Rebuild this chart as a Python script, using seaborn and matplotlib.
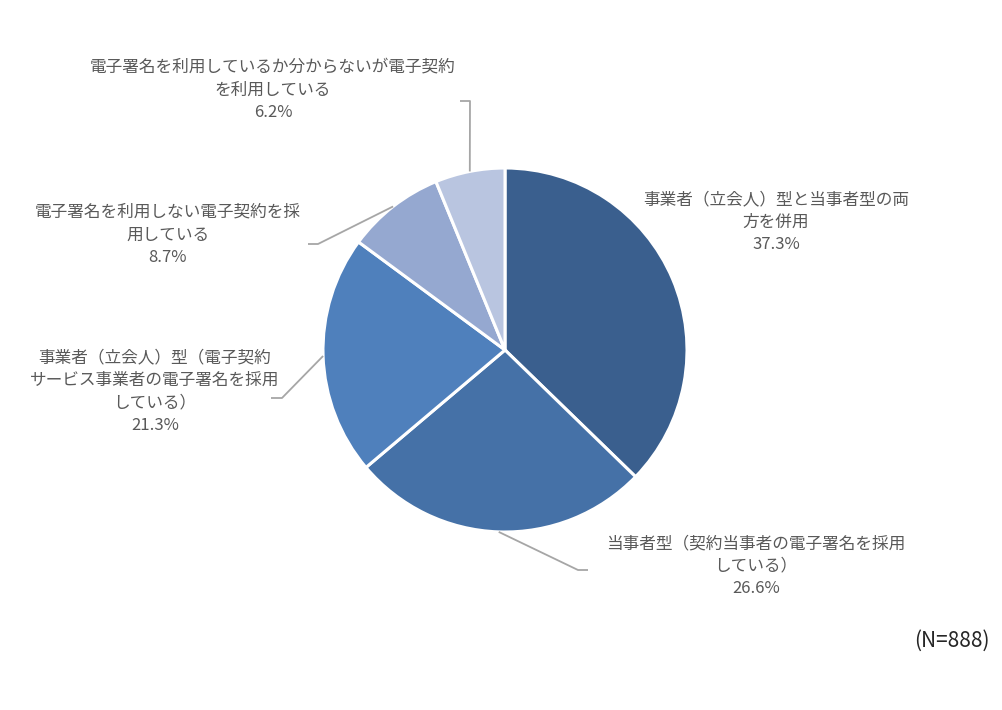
import numpy as np
import matplotlib
matplotlib.use("Agg")
import matplotlib.pyplot as plt
import seaborn as sns

sns.set_theme(style="white")
plt.rcParams['font.family'] = ['Noto Sans CJK JP', 'DejaVu Sans']

# data
labels = [
    "事業者（立会人）型と当事者型の両\n方を併用",
    "当事者型（契約当事者の電子署名を採用\nしている）",
    "事業者（立会人）型（電子契約\nサービス事業者の電子署名を採用\nしている）",
    "電子署名を利用しない電子契約を採\n用している",
    "電子署名を利用しているか分からないが電子契約\nを利用している",
]
shares = [37.3, 26.6, 21.3, 8.7, 6.2]
colors = ["#3A5F8E", "#4571A7", "#4F80BC", "#95A8D0", "#B9C5E0"]
n_total = 888

# label centre (pixels from top-left) and leader elbow / end points
label_pos = [(776, 222), (756, 566), (155, 392), (168, 235), (273, 90)]
elbows = [None, [(578, 570), (588, 570)], [(282, 398), (271, 398)],
          [(318, 244), (308, 244)], [(470, 101), (460, 101)]]

W, H = 1003, 710
cx, cy, r = 505, 350, 182

fig = plt.figure(figsize=(W / 100, H / 100), dpi=100)
ax = fig.add_axes([0, 0, 1, 1])

wedges, _ = ax.pie(shares, colors=colors, startangle=90, counterclock=False,
                   center=(cx, H - cy), radius=r,
                   wedgeprops=dict(edgecolor="white", linewidth=2.2))
ax.set_xlim(0, W)
ax.set_ylim(0, H)
ax.set_aspect("equal")
ax.axis("off")

txt_color = "#595959"
for w, lab, val, (lx, ly), elb in zip(wedges, labels, shares, label_pos, elbows):
    ax.text(lx, H - ly, f"{lab}\n{val:.1f}%", ha="center", va="center",
            fontsize=12, color=txt_color, linespacing=1.43)
    if elb is None:
        continue
    ang = np.deg2rad((w.theta1 + w.theta2) / 2)
    x0 = cx + r * np.cos(ang)
    y0 = (H - cy) + r * np.sin(ang)
    xs = [x0] + [p[0] for p in elb]
    ys = [y0] + [H - p[1] for p in elb]
    ax.plot(xs, ys, color="#A6A6A6", linewidth=1.3, solid_capstyle="butt")

ax.text(990, H - 641, f"(N={n_total})", ha="right", va="center",
        fontsize=15, color="#262626")

fig.savefig("out.png", dpi=100)
